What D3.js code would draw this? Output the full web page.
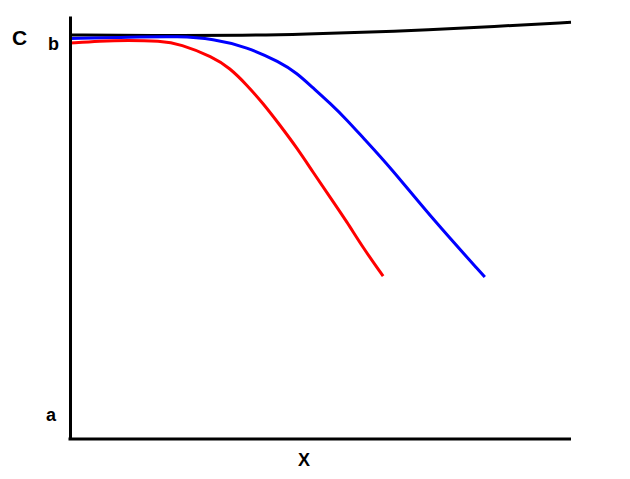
<!DOCTYPE html>
<html>
<head>
<meta charset="utf-8">
<script src="https://cdn.jsdelivr.net/npm/d3@7"></script>
<style>
  body { margin: 0; background: #fff; }
  text { font-family: "Liberation Sans", Arial, sans-serif; font-weight: bold; }
</style>
</head>
<body>
<script>
// values, x and y both on a 0..10 scale
const blackX = [0, 1.6, 3.6, 4.6, 6.4, 8.6, 10];
const blackY = [9.55, 9.54, 9.54, 9.57, 9.63, 9.76, 9.85];

const blueX = [0, 1.2, 2.2, 2.85, 3.53, 4.19, 4.53, 4.85, 5.19, 5.53, 5.85, 6.39, 7.25, 8.28];
const blueY = [9.47, 9.5, 9.52, 9.46, 9.27, 8.91, 8.65, 8.3, 7.94, 7.54, 7.12, 6.43, 5.18, 3.83];

const redX = [0, 0.6, 1.14, 1.8, 2.2, 2.85, 3.19, 3.53, 3.85, 4.19, 4.53, 4.85, 5.19, 5.53, 5.85, 6.25];
const redY = [9.36, 9.41, 9.43, 9.41, 9.34, 9.03, 8.77, 8.37, 7.94, 7.42, 6.88, 6.31, 5.72, 5.13, 4.52, 3.85];

const series = [
  { xs: blackX, ys: blackY, color: "#000" },
  { xs: blueX, ys: blueY, color: "#0000ff" },
  { xs: redX, ys: redY, color: "#ff0000" },
];

const svg = d3
  .select("body")
  .append("svg")
  .attr("width", 630)
  .attr("height", 479);

const x = d3.scaleLinear().domain([0, 10]).range([70, 571]);
const y = d3.scaleLinear().domain([0, 10]).range([439, 16]);

// basis curve smooths out the small reading errors
const line = d3
  .line()
  .x((d) => x(d[0]))
  .y((d) => y(d[1]))
  .curve(d3.curveBasis);

svg
  .selectAll("path.curve")
  .data(series)
  .enter()
  .append("path")
  .attr("class", "curve")
  .attr("d", (s) => line(d3.zip(s.xs, s.ys)))
  .attr("fill", "none")
  .attr("stroke", (s) => s.color)
  .attr("stroke-width", 3);

// axes: only the lines, no ticks
const xAxis = svg
  .append("g")
  .attr("transform", "translate(0,439)")
  .call(d3.axisBottom(x).ticks(0).tickSizeOuter(0));
const yAxis = svg
  .append("g")
  .attr("transform", "translate(70,0)")
  .call(d3.axisLeft(y).ticks(0).tickSizeOuter(0));

[xAxis, yAxis].forEach((g) => {
  g.select(".domain").attr("stroke", "#000").attr("stroke-width", 3);
});
xAxis.select(".domain").attr("d", "M68.5,0H571");

svg.append("text").attr("x", 12).attr("y", 45).style("font-size", "21px").text("C");
svg.append("text").attr("x", 48).attr("y", 50).style("font-size", "18px").text("b");
svg.append("text").attr("x", 46).attr("y", 421).style("font-size", "18px").text("a");
svg.append("text").attr("x", 298).attr("y", 466).style("font-size", "18px").text("X");
</script>
</body>
</html>
